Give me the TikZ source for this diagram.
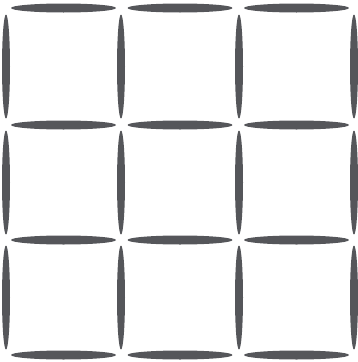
\documentclass[tikz,border=0pt]{standalone}
\usepackage{tikz}
\usetikzlibrary{shapes.geometric}
\definecolor{stickgray}{HTML}{55565A}

\begin{document}
\begin{tikzpicture}[x=1pt, y=-1pt,
  stick/.style={ellipse, fill=stickgray, draw=none, inner sep=0pt},
  hstick/.style={stick, minimum width=105pt, minimum height=9pt},
  vstick/.style={stick, minimum width=8pt, minimum height=104pt}]

  % Frame of the picture
  \useasboundingbox (0,0) rectangle (357,362);

  % Horizontal matches, rows at y = 8, 125, 240, 355
  \foreach \r/\y in {1/8, 2/125, 3/240, 4/355}
    \foreach \c/\x in {1/63.5, 2/180, 3/296.5}
      \node[hstick] (h\r\c) at (\x,\y) {};

  % Vertical matches, columns at x = 6, 121, 239, 354
  \foreach \c/\x in {1/6, 2/121, 3/239, 4/354}
    \foreach \r/\y in {1/66.5, 2/182.5, 3/297.5}
      \node[vstick] (v\r\c) at (\x,\y) {};
\end{tikzpicture}
\end{document}
